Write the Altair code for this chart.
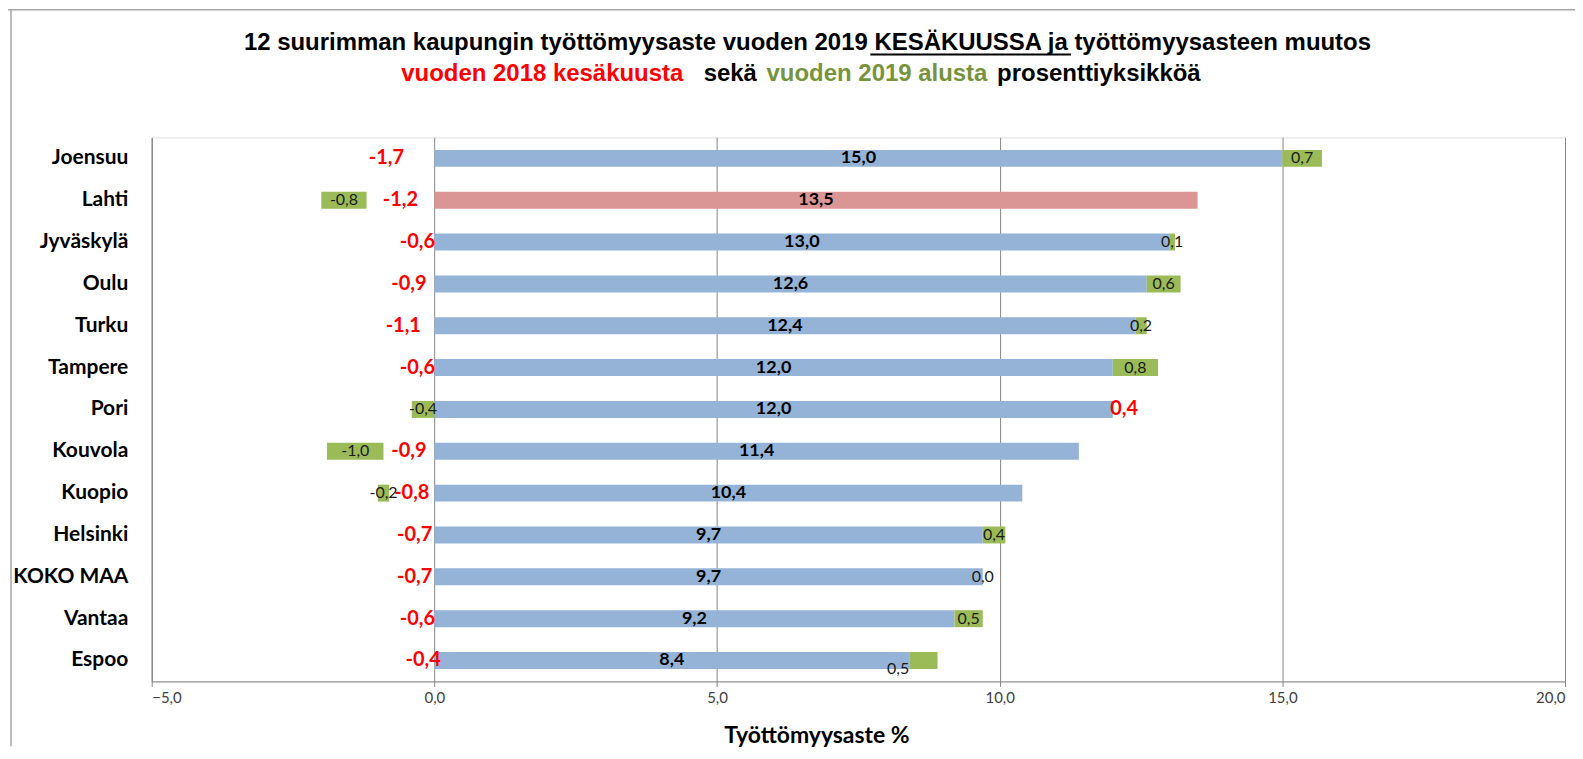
import altair as alt
import pandas as pd
import numpy as np

cities = ["Joensuu", "Lahti", "Jyväskylä", "Oulu", "Turku", "Tampere", "Pori",
          "Kouvola", "Kuopio", "Helsinki", "KOKO MAA", "Vantaa", "Espoo"]
rate_2019_06 = [15.0, 13.5, 13.0, 12.6, 12.4, 12.0, 12.0, 11.4, 10.4, 9.7, 9.7, 9.2, 8.4]
change_from_2018_06 = [-1.7, -1.2, -0.6, -0.9, -1.1, -0.6, 0.4, -0.9, -0.8, -0.7, -0.7, -0.6, -0.4]
change_from_2019_start = [0.7, -0.8, 0.1, 0.6, 0.2, 0.8, -0.4, -1.0, -0.2, 0.4, 0.0, 0.5, 0.5]
x_ticks = [-5, 0, 5, 10, 15, 20]

title_line1 = "12 suurimman kaupungin työttömyysaste vuoden 2019 KESÄKUUSSA  ja työttömyysasteen muutos"
title_red = "vuoden 2018 kesäkuusta"
title_mid = "sekä"
title_green = "vuoden 2019 alusta"
title_end = "prosenttiyksikköä"
x_title = "Työttömyysaste %"


def fi(v):
    return f"{v:.1f}".replace(".", ",")


rate = np.array(rate_2019_06)
red = np.array(change_from_2018_06)
green = np.array(change_from_2019_start)

df = pd.DataFrame({"city": cities, "rate": rate, "red": red, "green": green})
df["zero"] = 0.0
df["rate_mid"] = rate / 2
df["rate_lbl"] = [fi(v) for v in rate]
red_start = np.where(red < 0, 0.0, rate)
df["red_mid"] = red_start + red / 2
df["red_lbl"] = [fi(v) for v in red]
g_start = np.where(green >= 0, rate + np.maximum(red, 0), np.minimum(red, 0))
df["g_start"] = g_start
df["g_end"] = g_start + green
df["g_mid"] = g_start + green / 2
df["g_lbl"] = [fi(v) for v in green]

GRID = "#868686"
xscale = alt.Scale(domain=[-5, 20], nice=False, zero=False)
xaxis = alt.Axis(values=x_ticks, labelExpr="replace(format(datum.value, '.1f'), '.', ',')",
                 grid=True, gridColor=GRID, domainColor=GRID, tickColor=GRID, tickSize=5,
                 labelFont="Lato", labelFontSize=15, labelColor="#404040", labelPadding=4,
                 title=x_title, titleFont="Lato", titleFontSize=23, titleFontWeight="bold",
                 titleColor="black", titleX=666, titleY=61, titleBaseline="alphabetic",
                 titleAlign="center")
yenc = alt.Y("city:N", sort=cities, scale=alt.Scale(paddingInner=0, paddingOuter=0),
             axis=alt.Axis(title=None, ticks=False, grid=False, domain=True, domainColor=GRID,
                           labelFont="Lato", labelFontWeight="bold", labelFontSize=21,
                           labelColor="black", labelPadding=24))

base = alt.Chart(df)

main_bars = base.mark_bar(size=17).encode(
    x=alt.X("zero:Q", scale=xscale, axis=xaxis),
    x2="rate:Q",
    y=yenc,
    color=alt.condition(alt.datum.city == "Lahti", alt.value("#D99694"), alt.value("#95B3D7")),
)
green_bars = base.mark_bar(size=17, color="#9BBB59").encode(
    x=alt.X("g_start:Q", scale=xscale, axis=xaxis), x2="g_end:Q", y=yenc)

rate_text = base.mark_text(font="Lato", fontWeight="bold", fontSize=18, color="black").encode(
    x=alt.X("rate_mid:Q", scale=xscale, axis=xaxis), y=yenc, text="rate_lbl:N")
red_text = base.mark_text(font="Lato", fontWeight="bold", fontSize=20, color="#FF0000").encode(
    x=alt.X("red_mid:Q", scale=xscale, axis=xaxis), y=yenc, text="red_lbl:N")
green_text = base.transform_filter(alt.datum.city != "Espoo").mark_text(
    font="Lato", fontSize=16, color="#1a1a1a").encode(
    x=alt.X("g_mid:Q", scale=xscale, axis=xaxis), y=yenc, text="g_lbl:N")
green_text_espoo = base.transform_filter(alt.datum.city == "Espoo").mark_text(
    font="Lato", fontSize=16, color="#1a1a1a", align="right", dy=9).encode(
    x=alt.X("g_start:Q", scale=xscale, axis=xaxis), y=yenc, text="g_lbl:N")


def tt(text, x, y, color, align):
    return alt.Chart(pd.DataFrame({"t": [text]})).mark_text(
        font="Liberation Sans", fontSize=24, fontWeight="bold", color=color,
        align=align, baseline="alphabetic").encode(
        x=alt.value(x), y=alt.value(y), text="t:N")


t1 = tt(title_line1, 657, -88, "black", "center")
t2 = tt(title_red, 250, -57, "#FF0000", "left")
t3 = tt(title_mid, 553, -57, "black", "left")
t4 = tt(title_green, 616, -57, "#77933C", "left")
t5 = tt(title_end, 847, -57, "black", "left")
underline = alt.Chart(pd.DataFrame({"a": [0]})).mark_rule(color="black", strokeWidth=2).encode(
    x=alt.value(720), x2=alt.value(921), y=alt.value(-83))
frame_top = alt.Chart(pd.DataFrame({"a": [0]})).mark_rule(color="#A6A6A6", strokeWidth=1.5).encode(
    x=alt.value(-144), x2=alt.value(1426), y=alt.value(-128))
frame_left = alt.Chart(pd.DataFrame({"a": [0]})).mark_rule(color="#A6A6A6", strokeWidth=1.5).encode(
    x=alt.value(-141), y=alt.value(-128), y2=alt.value(610))

chart = alt.layer(
    main_bars, green_bars, rate_text, red_text, green_text, green_text_espoo,
    t1, t2, t3, t4, t5, underline, frame_top, frame_left
).properties(
    width=1416, height=545,
    autosize=alt.AutoSizeParams(type="none"),
    padding={"left": 144, "top": 129, "right": 10, "bottom": 65},
).configure_view(stroke=None).configure(background="white")

chart.save("out.html", embed_options={"renderer": "svg", "actions": False})
